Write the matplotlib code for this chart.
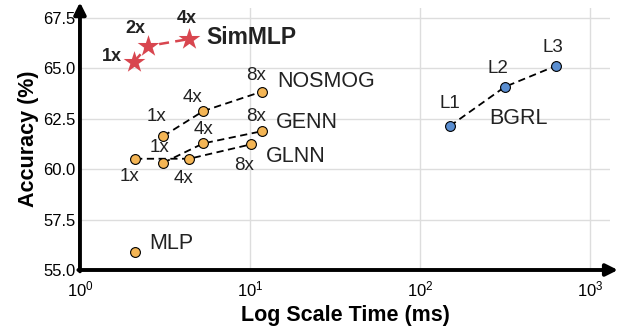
import matplotlib

matplotlib.use("Agg")
import matplotlib.pyplot as plt

plt.rcParams["font.family"] = ["Liberation Sans", "DejaVu Sans"]
plt.rcParams["mathtext.fontset"] = "custom"
plt.rcParams["mathtext.rm"] = "Liberation Sans"
plt.rcParams["mathtext.it"] = "Liberation Sans"

# data (time in ms, accuracy in %)
simmlp_time = [2.08, 2.50, 4.40]
simmlp_acc = [65.31, 66.09, 66.44]
simmlp_tags = ["1x", "2x", "4x"]

nosmog_time = [3.09, 5.31, 11.7]
nosmog_acc = [61.63, 62.87, 63.83]
genn_time = [3.09, 5.31, 11.7]
genn_acc = [60.31, 61.27, 61.87]
glnn_time = [2.11, 4.40, 10.1]
glnn_acc = [60.51, 60.51, 61.22]
mlp_time = [2.11]
mlp_acc = [55.88]

bgrl_time = [150, 316, 631]
bgrl_acc = [62.13, 64.07, 65.11]
bgrl_tags = ["L1", "L2", "L3"]

orange = "#F4B554"
blue = "#5A8ED1"
red = "#D8464F"

fig = plt.figure(figsize=(6.18, 3.31), dpi=100)
ax = fig.add_axes([0.1294, 0.1843, 0.8576, 0.793])
ax.set_xscale("log")
ax.set_xlim(1, 10 ** 3.118)
ax.set_ylim(55, 68.0)
ax.set_yticks([55, 57.5, 60, 62.5, 65, 67.5])
ax.set_yticklabels(["55.0", "57.5", "60.0", "62.5", "65.0", "67.5"])
ax.set_xticks([1, 10, 100, 1000])
ax.minorticks_off()
ax.grid(True, color="#dddddd", lw=1)
ax.set_axisbelow(True)
ax.tick_params(length=0, labelsize=12, pad=3)
ax.tick_params(axis="x", pad=7)
for s in ["top", "right", "left", "bottom"]:
    ax.spines[s].set_visible(False)

# arrow axes
arrow = dict(arrowstyle="-|>,head_length=0.7,head_width=0.35", lw=2.8, color="k",
             shrinkA=0, shrinkB=0)
ax.annotate("", xy=(0, 1.02), xytext=(0, -0.005), xycoords="axes fraction",
            arrowprops=arrow, annotation_clip=False)
ax.annotate("", xy=(1.015, 0), xytext=(-0.003, 0), xycoords="axes fraction",
            arrowprops=arrow, annotation_clip=False)

line_kw = dict(ls="--", color="k", lw=1.3, dashes=(4, 2.5), zorder=2)
pt_kw = dict(s=50, edgecolor="k", linewidth=0.8, zorder=3)

# orange baselines
for xs, ys in [(nosmog_time, nosmog_acc), (genn_time, genn_acc), (glnn_time, glnn_acc)]:
    ax.plot(xs, ys, **line_kw)
    ax.scatter(xs, ys, color=orange, **pt_kw)
ax.scatter(mlp_time, mlp_acc, color=orange, **pt_kw)

# BGRL
ax.plot(bgrl_time, bgrl_acc, **line_kw)
ax.scatter(bgrl_time, bgrl_acc, color=blue, **pt_kw)

# SimMLP
ax.plot(simmlp_time, simmlp_acc, ls="--", color=red, lw=1.8, dashes=(4, 2.5), zorder=2)
ax.scatter(simmlp_time, simmlp_acc, color=red, marker="*", s=270, linewidth=0, zorder=4)

lbl = dict(fontsize=13.5, color="#222222", ha="center", va="center")
off = lambda dx, dy: dict(textcoords="offset points", xytext=(dx, dy))

# SimMLP tags
bold = dict(fontsize=13, fontweight="bold", ha="center", va="center", color="#222222")
ax.annotate(simmlp_tags[0], (simmlp_time[0], simmlp_acc[0]), **off(-16, 4), **bold)
ax.annotate(simmlp_tags[1], (simmlp_time[1], simmlp_acc[1]), **off(-9, 13), **bold)
ax.annotate(simmlp_tags[2], (simmlp_time[2], simmlp_acc[2]), **off(-2, 15), **bold)
ax.annotate("SimMLP", (simmlp_time[2], simmlp_acc[2]), **off(12, 1),
            fontsize=16.5, fontweight="bold", ha="left", va="center", color="#222222")

# baseline tags
ax.annotate("1x", (glnn_time[0], glnn_acc[0]), **off(-4, -13), **lbl)
ax.annotate("4x", (glnn_time[1], glnn_acc[1]), **off(-4, -14.5), **lbl)
ax.annotate("8x", (glnn_time[2], glnn_acc[2]), **off(-5, -15), **lbl)
ax.annotate("1x", (genn_time[0], genn_acc[0]), **off(-3, 11), **lbl)
ax.annotate("4x", (genn_time[1], genn_acc[1]), **off(0, 10), **lbl)
ax.annotate("8x", (genn_time[2], genn_acc[2]), **off(-4, 11), **lbl)
ax.annotate("1x", (nosmog_time[0], nosmog_acc[0]), **off(-5, 14), **lbl)
ax.annotate("4x", (nosmog_time[1], nosmog_acc[1]), **off(-8, 10), **lbl)
ax.annotate("8x", (nosmog_time[2], nosmog_acc[2]), **off(-4, 11.5), **lbl)

name = dict(fontsize=15.5, color="#222222", ha="left", va="center")
ax.annotate("NOSMOG", (nosmog_time[2], nosmog_acc[2]), **off(11, 7), **name)
ax.annotate("GENN", (genn_time[2], genn_acc[2]), **off(10, 6), **name)
ax.annotate("GLNN", (glnn_time[2], glnn_acc[2]), **off(11, -9), **name)
ax.annotate("MLP", (mlp_time[0], mlp_acc[0]), **off(10, 6), **name)

for t, a, tag, (dx, dy) in zip(bgrl_time, bgrl_acc, bgrl_tags,
                               [(0, 16.5), (-5, 13.5), (-2, 13.5)]):
    ax.annotate(tag, (t, a), **off(dx, dy), **lbl)
ax.annotate("BGRL", (bgrl_time[1], bgrl_acc[1]), **off(-11.5, -22.5),
            fontsize=15.5, color="#222222", ha="left", va="center")

ax.set_xlabel("Log Scale Time (ms)", fontsize=15.5, fontweight="bold", labelpad=4)
ax.set_ylabel("Accuracy (%)", fontsize=15.5, fontweight="bold", labelpad=3)

fig.savefig("out.png", dpi=100)
